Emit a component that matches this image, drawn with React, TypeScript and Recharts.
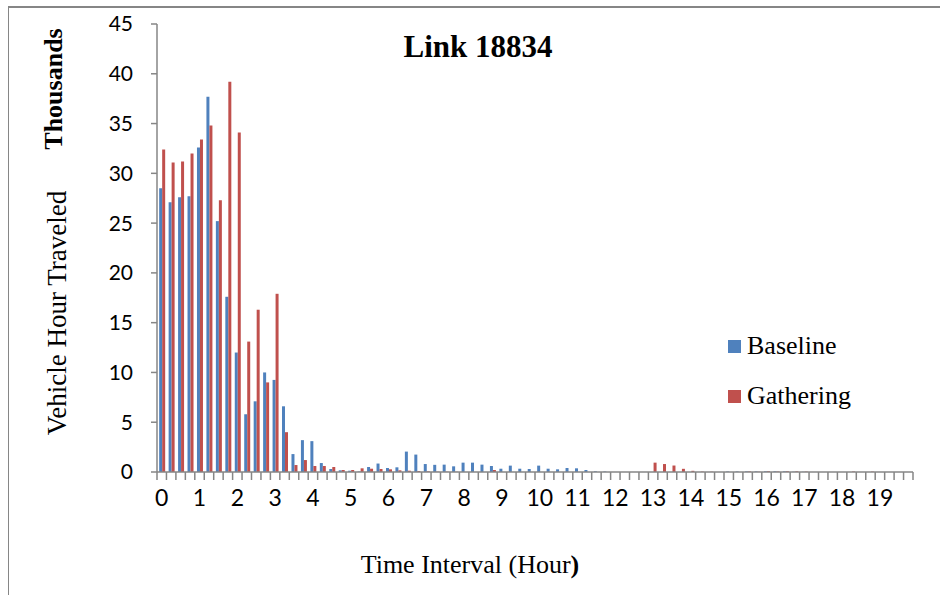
import React from 'react';
import { BarChart, Bar, XAxis, YAxis, Legend, Customized } from 'recharts';

const tickLabels = ['0', '1', '2', '3', '4', '5', '6', '7', '8', '9', '10', '11', '12', '13', '14', '15', '16', '17', '18', '19'];

const baselineValues = [
  28.5, 27.1, 27.6, 27.7, 32.6, 37.7, 25.2, 17.6, 12.0, 5.8,
  7.1, 10.0, 9.25, 6.6, 1.8, 3.2, 3.1, 0.9, 0.3, 0.17,
  0.13, 0.05, 0.5, 0.85, 0.4, 0.47, 2.05, 1.75, 0.8, 0.72,
  0.74, 0.57, 0.94, 0.94, 0.74, 0.6, 0.33, 0.64, 0.33, 0.3,
  0.64, 0.33, 0.27, 0.4, 0.37, 0.2, 0.07, 0.05, 0, 0,
  0, 0, 0, 0, 0, 0, 0, 0, 0, 0,
  0.05, 0.05, 0.06, 0.06, 0.07, 0.07, 0.07, 0.03, 0.02, 0,
  0, 0, 0, 0, 0, 0, 0, 0, 0, 0,
];

const gatheringValues = [
  32.4, 31.1, 31.2, 32.0, 33.4, 34.8, 27.3, 39.2, 34.1, 13.1,
  16.3, 9.0, 17.9, 4.0, 0.7, 1.2, 0.6, 0.6, 0.5, 0.2,
  0.2, 0.37, 0.33, 0.3, 0.27, 0.17, 0.13, 0.1, 0.07, 0.03,
  0.03, 0.02, 0, 0, 0, 0.2, 0, 0, 0, 0,
  0, 0, 0, 0, 0, 0, 0, 0, 0, 0,
  0, 0, 0.94, 0.8, 0.65, 0.32, 0.12, 0.04, 0.03, 0,
  0, 0, 0.06, 0.03, 0.08, 0.05, 0.08, 0.07, 0.04, 0,
  0, 0, 0, 0.05, 0, 0.04, 0, 0, 0, 0,
];

const yTicks = [0, 5, 10, 15, 20, 25, 30, 35, 40, 45];

const seriesNames = ['Baseline', 'Gathering'];
const seriesColors = ['#4F81BD', '#C0504D'];

const data = baselineValues.map((b, i) => ({ idx: i, Baseline: b, Gathering: gatheringValues[i] }));

const W = 940;
const H = 595;
const PLOT_LEFT = 157;
const PLOT_RIGHT = 913;
const PLOT_TOP = 24;
const PLOT_BOTTOM = 472;
const BAND = (PLOT_RIGHT - PLOT_LEFT) / data.length;
const AXIS_COLOR = '#868686';
const SERIF = '"Liberation Serif", "Times New Roman", serif';
const SANS = 'Lato, "Open Sans", sans-serif';

const XTick = (props: any) => {
  const { x, y, index } = props;
  const left = x - BAND / 2;
  return (
    <g>
      <line x1={left} x2={left} y1={y} y2={y + 8} stroke={AXIS_COLOR} strokeWidth={1.5} />
      {index === data.length - 1 && (
        <line x1={x + BAND / 2} x2={x + BAND / 2} y1={y} y2={y + 8} stroke={AXIS_COLOR} strokeWidth={1.5} />
      )}
      {index % 4 === 0 && (
        <text x={x} y={y + 34} textAnchor="middle" fontFamily={SANS} fontSize={23} fill="#000">
          {tickLabels[index / 4]}
        </text>
      )}
    </g>
  );
};

const Annotations = () => (
  <g>
    <text x={478} y={57} textAnchor="middle" fontFamily={SERIF} fontWeight="bold" fontSize={31} fill="#000">
      Link 18834
    </text>
    <text transform="translate(66,313) rotate(-90)" textAnchor="middle" fontFamily={SERIF} fontSize={27} fill="#000">
      Vehicle Hour Traveled
    </text>
    <text transform="translate(62,89) rotate(-90)" textAnchor="middle" fontFamily={SERIF} fontWeight="bold" fontSize={26} fill="#000">
      Thousands
    </text>
    <text x={470} y={573} textAnchor="middle" fontFamily={SERIF} fontSize={26} fill="#000">
      Time Interval (Hour<tspan fontWeight="bold">)</tspan>
    </text>
  </g>
);

const LegendContent = () => (
  <div style={{ fontFamily: SERIF, fontSize: 26, color: '#000' }}>
    {seriesNames.map((n, i) => (
      <div key={n} style={{ display: 'flex', alignItems: 'center', height: 50 }}>
        <span style={{ display: 'inline-block', width: 13, height: 13, background: seriesColors[i], marginRight: 6 }} />
        <span>{n}</span>
      </div>
    ))}
  </div>
);

export default function App() {
  return (
    <div style={{ position: 'absolute', left: 0, top: 0, width: W, height: H, background: '#fff', overflow: 'hidden' }}>
      <div
        style={{
          position: 'absolute',
          left: 8,
          top: 6,
          width: W,
          height: H,
          borderTop: `2px solid ${AXIS_COLOR}`,
          borderLeft: `1.5px solid ${AXIS_COLOR}`,
          boxSizing: 'border-box',
        }}
      />
      <BarChart
        width={W}
        height={H}
        data={data}
        margin={{ top: PLOT_TOP, right: W - PLOT_RIGHT, left: PLOT_LEFT - 60, bottom: H - PLOT_BOTTOM - 30 }}
        barCategoryGap="23%"
        barGap={0}
      >
        <XAxis
          dataKey="idx"
          type="category"
          interval={0}
          height={30}
          tickLine={false}
          tickSize={0}
          tickMargin={0}
          axisLine={{ stroke: AXIS_COLOR, strokeWidth: 1.5 }}
          tick={<XTick />}
        />
        <YAxis
          width={60}
          domain={[0, 45]}
          ticks={yTicks}
          interval={0}
          tickSize={6}
          tickMargin={18}
          axisLine={{ stroke: AXIS_COLOR, strokeWidth: 1.5 }}
          tickLine={{ stroke: AXIS_COLOR, strokeWidth: 1.5 }}
          tick={{ fill: '#000', fontSize: 21, fontFamily: SANS }}
        />
        <Legend
          layout="vertical"
          align="center"
          verticalAlign="middle"
          content={<LegendContent />}
          wrapperStyle={{ left: 728, top: 321, width: 200 }}
        />
        {seriesNames.map((n, i) => (
          <Bar key={n} dataKey={n} fill={seriesColors[i]} isAnimationActive={false} />
        ))}
        <Customized component={<Annotations />} />
      </BarChart>
    </div>
  );
}
